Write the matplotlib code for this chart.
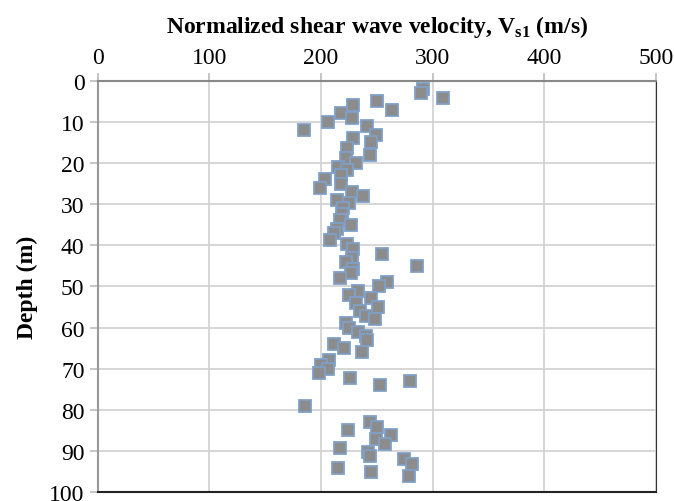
import matplotlib
matplotlib.use("Agg")
import matplotlib.pyplot as plt
import numpy as np

# normalized shear wave velocity Vs1 (m/s) vs depth (m)
vs1 = [291, 290, 309, 250, 229, 264, 218, 228, 206, 185, 241, 249, 229, 245,
       223, 244, 222, 231, 215, 223, 218, 204, 218, 199, 228, 238, 214, 225,
       220, 219, 217, 227, 214, 212, 208, 223, 229, 255, 228, 222, 229, 227,
       286, 217, 259, 252, 233, 225, 245, 231, 251, 235, 240, 248, 222, 225,
       233, 240, 241, 212, 221, 237, 207, 200, 206, 198, 226, 280, 253, 186,
       244, 250, 224, 263, 249, 257, 217, 242, 244, 274, 282, 215, 245, 279]
depth = [2.1, 2.9, 4.1, 5.0, 5.8, 7.0, 7.8, 9.1, 9.9, 11.9, 11.0, 13.1, 14.0, 14.9,
         16.4, 18.0, 18.8, 20.1, 21.0, 21.8, 22.9, 23.8, 25.0, 26.0, 27.1, 27.9, 29.0, 29.8,
         30.9, 32.3, 33.9, 35.0, 36.0, 37.0, 38.8, 39.8, 40.9, 42.0, 43.1, 44.0, 45.7, 46.8,
         45.1, 48.0, 48.9, 49.9, 51.0, 52.0, 52.9, 54.0, 55.0, 56.0, 57.1, 58.0, 59.0, 60.0,
         61.0, 62.0, 63.1, 64.0, 65.0, 66.0, 68.0, 69.1, 70.2, 71.1, 72.2, 73.1, 74.0, 79.2,
         82.9, 84.1, 85.0, 86.1, 87.1, 88.3, 89.2, 90.2, 91.2, 92.0, 93.2, 94.1, 95.2, 96.2]

plt.rcParams['font.family'] = ['Liberation Serif', 'DejaVu Serif']
plt.rcParams['mathtext.fontset'] = 'custom'
plt.rcParams['mathtext.rm'] = 'Liberation Serif'
plt.rcParams['mathtext.bf'] = 'Liberation Serif:bold'

fig = plt.figure(figsize=(6.74, 5.02), dpi=100)
ax = fig.add_axes([0.145, 0.018, 0.828, 0.819])

ax.plot(vs1, depth, linestyle='none', marker='s', markersize=8,
        markerfacecolor='#8c8c8c', markeredgecolor='#7fa0c8', markeredgewidth=1.3,
        zorder=3)

ax.set_xlim(0, 500)
ax.set_ylim(100, 0)
ax.set_xticks(np.arange(0, 501, 100))
ax.set_yticks(np.arange(0, 101, 10))
ax.xaxis.tick_top()
ax.xaxis.set_label_position('top')
ax.grid(True, color='#d0d0d0', linewidth=1.2, zorder=0)
ax.set_axisbelow(True)

ax.tick_params(axis='both', labelsize=17, length=6, color='#bbbbbb', width=1.2)
ax.tick_params(axis='x', pad=3)
ax.set_xlabel(r'Normalized shear wave velocity, V$_{\mathbf{s1}}$ (m/s)',
              fontsize=17, fontweight='bold', labelpad=11)
ax.set_ylabel('Depth (m)', fontsize=17, fontweight='bold', labelpad=8)

ax.spines['top'].set_color('#888888')
ax.spines['left'].set_color('#999999')
ax.spines['top'].set_linewidth(1.5)
ax.spines['left'].set_linewidth(1.5)
ax.spines['right'].set_color('#333333')
ax.spines['bottom'].set_color('#222222')
ax.spines['bottom'].set_linewidth(1.5)

fig.savefig('out.png', dpi=100)
